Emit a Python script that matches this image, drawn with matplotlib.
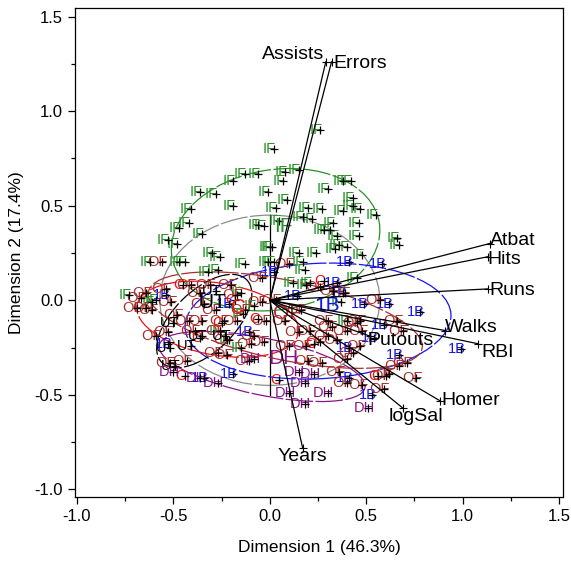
import matplotlib
matplotlib.use("Agg")
import matplotlib.pyplot as plt
from matplotlib.patches import Ellipse
from matplotlib.ticker import MultipleLocator, FormatStrFormatter

plt.rcParams['font.family'] = ['Liberation Sans', 'DejaVu Sans']

# ---------------- data ----------------
IF_x = [0.02, 0.08, 0.07, -0.13, -0.06, -0.19, -0.36, -0.28, -0.01, -0.19, 0.03, -0.41, -0.42, -0.47,
        -0.35, -0.53, -0.48, -0.06, -0.03, 0.05, 0.01, -0.30, -0.26, -0.47, -0.44, -0.62, -0.13, -0.01,
        0.09, 0.26, 0.15, 0.30, 0.20, 0.17, 0.22, 0.27, 0.38, 0.42, 0.43, 0.43, 0.47, 0.38, 0.55, 0.33,
        0.28, 0.31, 0.35, 0.46, 0.46, 0.36, 0.34, 0.40, 0.66, 0.67, 0.48, 0.15, 0.24, 0.00, 0.02, 0.17,
        0.18, 0.12, 0.21, 0.45, -0.32, -0.27, -0.73, -0.61, -0.15, -0.08, -0.14, -0.21, -0.15, -0.26,
        0.19, 0.40, 0.37, -0.59]
IF_y = [0.80, 0.68, 0.63, 0.67, 0.67, 0.63, 0.57, 0.56, 0.57, 0.50, 0.49, 0.48, 0.41, 0.38,
        0.35, 0.32, 0.30, 0.40, 0.39, 0.42, 0.28, 0.25, 0.23, 0.20, 0.20, 0.20, 0.19, 0.20,
        0.53, 0.90, 0.69, 0.59, 0.49, 0.44, 0.43, 0.48, 0.63, 0.63, 0.54, 0.50, 0.48, 0.47, 0.45, 0.41,
        0.37, 0.37, 0.34, 0.41, 0.34, 0.29, 0.27, 0.28, 0.33, 0.29, 0.24, 0.25, 0.25, 0.28, 0.20, 0.20,
        0.16, 0.09, 0.09, 0.12, 0.15, 0.16, 0.03, -0.01, 0.04, -0.03, -0.07, -0.21, -0.25, -0.16,
        0.08, -0.11, -0.01, 0.00]

B1_x = [0.41, 0.58, 0.35, 0.38, 0.14, 0.49, 0.62, 0.78, 0.59, 0.41, 0.67, 0.41, 0.53, 0.54, 0.99,
        -0.53, -0.19, -0.11, -0.21, -0.54, -0.34, 0.02]
B1_y = [0.20, 0.19, 0.09, 0.04, 0.02, -0.02, -0.02, -0.06, -0.13, -0.25, -0.29, -0.41, -0.50, -0.20,
        -0.26, -0.23, -0.39, -0.17, -0.02, 0.03, -0.41, 0.15]

OF_x = [-0.67, -0.69, -0.64, -0.64, -0.59, -0.56, -0.54, -0.61, -0.51, -0.48, -0.41, -0.36, -0.31,
        -0.34, -0.42, -0.39, -0.35, -0.26, -0.24, -0.20, -0.17, -0.17, -0.08, -0.03, -0.02, -0.04,
        -0.53, -0.27, -0.22, -0.43, -0.52, -0.11, -0.10, 0.10, 0.26, 0.39, 0.57, 0.21, 0.15, 0.30,
        0.32, 0.40, 0.47, 0.48, 0.66, 0.69, 0.30, 0.35, 0.47, 0.43, 0.27, 0.20, 0.71, 0.67, 0.62,
        0.76, 0.40, 0.48, 0.59, 0.60, 0.33, 0.45, 0.40, 0.26, 0.19, 0.36, -0.04, -0.28, -0.13,
        -0.22, 0.08, 0.10, 0.03, 0.16]
OF_y = [0.01, -0.04, -0.04, 0.04, -0.19, 0.20, 0.06, -0.05, -0.01, -0.08, 0.08, 0.04, 0.08,
        -0.02, -0.11, -0.16, -0.11, -0.16, -0.11, 0.08, 0.03, -0.11, -0.19, -0.22, -0.11, -0.01,
        -0.17, -0.28, -0.29, -0.32, -0.33, -0.32, -0.23, 0.19, 0.07, 0.04, 0.00, -0.16, -0.17, -0.11,
        -0.14, -0.16, -0.11, -0.16, -0.11, -0.16, -0.19, -0.21, -0.24, -0.28, -0.33, -0.32, -0.33,
        -0.35, -0.39, -0.41, -0.44, -0.45, -0.47, -0.40, 0.05, -0.12, -0.31, -0.22, -0.24, -0.38,
        0.12, -0.05, -0.05, -0.21, -0.11, -0.24, 0.00, -0.05]

C_x = [-0.45, -0.44, -0.36, 0.28, 0.23, 0.56, 0.05, -0.25, -0.18, -0.06]
C_y = [0.08, -0.40, -0.20, 0.10, -0.23, -0.40, -0.42, -0.12, 0.00, -0.10]

UT_x = [-0.50, -0.49, -0.52, -0.35, -0.23, -0.28, -0.41]
UT_y = [-0.12, -0.35, -0.25, -0.19, -0.19, 0.05, -0.24]

DH_x = [0.18, 0.10, 0.30, 0.18, 0.51, 0.15, 0.23, -0.50, -0.36, -0.27, -0.08]
DH_y = [-0.44, -0.49, -0.49, -0.55, -0.57, -0.38, -0.39, -0.38, -0.41, -0.44, -0.31]

groups = ['IF', '1B', 'OF', 'C', 'UT', 'DH']
group_x = [IF_x, B1_x, OF_x, C_x, UT_x, DH_x]
group_y = [IF_y, B1_y, OF_y, C_y, UT_y, DH_y]
group_mean_x = [0.07, 0.30, 0.09, -0.16, -0.30, 0.07]
group_mean_y = [0.39, -0.03, -0.07, -0.04, -0.01, -0.31]

# concentration ellipses: centre x, centre y, full width, full height, angle (deg)
ell_x = [0.03, 0.25, 0.08, -0.27, -0.34, -0.04]
ell_y = [0.32, -0.11, -0.105, -0.10, -0.11, -0.35]
ell_w = [1.09, 1.38, 1.45, 0.85, 0.62, 1.09]
ell_h = [0.74, 0.61, 0.42, 0.38, 0.32, 0.30]
ell_a = [10, 3, -12, -10, 45, -12]
overall_w, overall_h = 1.14, 0.90

# variable vectors
var_names = ['Assists', 'Errors', 'Atbat', 'Hits', 'Runs', 'Walks', 'RBI', 'Putouts', 'Homer',
             'logSal', 'Years']
var_x = [0.29, 0.32, 1.14, 1.13, 1.13, 0.91, 1.08, 0.52, 0.88, 0.69, 0.17]
var_y = [1.26, 1.26, 0.30, 0.23, 0.06, -0.16, -0.23, -0.19, -0.53, -0.57, -0.78]

xlabel = 'Dimension 1 (46.3%)'
ylabel = 'Dimension 2 (17.4%)'

# ---------------- styles ----------------
colors = {'IF': '#279127', '1B': '#1414F0', 'OF': '#A8302F', 'C': '#F01010',
          'UT': '#000000', 'DH': '#86168A'}
lab_style = {
    'Assists': dict(ha='right', va='center', off=(-1, 5)),
    'Errors': dict(ha='left', va='center', off=(1, -1)),
    'Atbat': dict(ha='left', va='center', off=(0, 2)),
    'Hits': dict(ha='left', va='center', off=(0, -2)),
    'Runs': dict(ha='left', va='center', off=(1, -1)),
    'Walks': dict(ha='left', va='center', off=(0, 2)),
    'RBI': dict(ha='left', va='center', off=(2, -6)),
    'Putouts': dict(ha='left', va='center', off=(-2, -3)),
    'Homer': dict(ha='left', va='center', off=(1, 0)),
    'logSal': dict(ha='left', va='top', off=(-10, 0)),
    'Years': dict(ha='center', va='top', off=(0, 0)),
}

fig = plt.figure(figsize=(5.71, 5.62), dpi=100)
ax = fig.add_axes([75 / 571, 65 / 562, 488 / 571, 489 / 562])

dash = (0, (22, 2))
# overall ellipse + its axis
ax.add_patch(Ellipse((0, 0), overall_w, overall_h, angle=0, fill=False,
                     edgecolor='#8C8C8C', lw=0.9, linestyle=dash, zorder=2))
ax.plot([0, 0], [-overall_h / 2 - 0.05, overall_h / 2], color='black', lw=0.9, zorder=2)

for g, ex, ey, ew, eh, ea in zip(groups, ell_x, ell_y, ell_w, ell_h, ell_a):
    ax.add_patch(Ellipse((ex, ey), ew, eh, angle=ea, fill=False, edgecolor=colors[g],
                         lw=0.9, linestyle=dash, zorder=2))

for g, xs, ys in zip(groups, group_x, group_y):
    for x, y in zip(xs, ys):
        ax.annotate(g, (x, y), xytext=(-3, 0), textcoords='offset points',
                    ha='center', va='center', fontsize=10.5, color=colors[g], zorder=3)
    ax.plot(xs, ys, linestyle='none', marker='+', color='black', markersize=6,
            markeredgewidth=0.9, zorder=4)

for g, mx, my in zip(groups, group_mean_x, group_mean_y):
    ax.text(mx, my, g, ha='center', va='center', fontsize=15, color=colors[g], zorder=5)

for name, vx, vy in zip(var_names, var_x, var_y):
    ax.plot([0, vx], [0, vy], color='black', lw=0.9, zorder=5)
    ax.plot([vx], [vy], marker='+', color='black', markersize=6, markeredgewidth=0.8, zorder=5)
    st = lab_style[name]
    ax.annotate(name, (vx, vy), xytext=st['off'], textcoords='offset points',
                ha=st['ha'], va=st['va'], fontsize=14, color='black', zorder=6)

ax.set_xlim(-1.01, 1.52)
ax.set_ylim(-1.04, 1.545)
ax.xaxis.set_major_locator(MultipleLocator(0.5))
ax.xaxis.set_minor_locator(MultipleLocator(0.25))
ax.yaxis.set_major_locator(MultipleLocator(0.5))
ax.yaxis.set_minor_locator(MultipleLocator(0.25))
ax.xaxis.set_major_formatter(FormatStrFormatter('%.1f'))
ax.yaxis.set_major_formatter(FormatStrFormatter('%.1f'))
ax.tick_params(which='major', length=5, width=0.9, labelsize=12, direction='out')
ax.tick_params(which='minor', length=3, width=0.9, direction='out')
ax.set_xlabel(xlabel, fontsize=12.5, labelpad=12)
ax.set_ylabel(ylabel, fontsize=12.5, labelpad=8)
for s in ax.spines.values():
    s.set_linewidth(0.9)

fig.savefig('out.png', dpi=100)
